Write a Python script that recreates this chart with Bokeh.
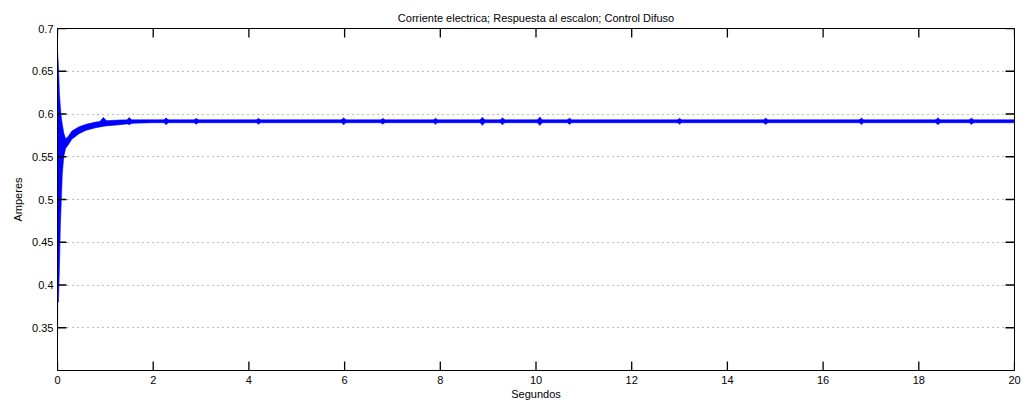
from bokeh.plotting import figure
from bokeh.models import LinearAxis, FixedTicker, Range1d, ColumnDataSource
from bokeh.embed import file_html
from bokeh.resources import INLINE

# ---- data ----
# envelope of the fast-oscillating current (time in s, bounds in A)
t_env = [0.0, 0.005, 0.02, 0.04, 0.06, 0.08, 0.10, 0.13, 0.17, 0.22, 0.30, 0.45, 0.60, 0.80, 1.00, 1.30, 1.60, 2.00, 20.0]
upper = [0.672, 0.670, 0.655, 0.625, 0.608, 0.596, 0.588, 0.578, 0.571, 0.5735, 0.580, 0.585, 0.588, 0.5905, 0.592, 0.593, 0.5932, 0.5932, 0.5932]
lower = [0.330, 0.380, 0.380, 0.420, 0.470, 0.500, 0.530, 0.550, 0.560, 0.5635, 0.5705, 0.577, 0.581, 0.584, 0.586, 0.5875, 0.5893, 0.5898, 0.5898]

# short noise bursts in the steady state
burst_t = [0.96, 1.5, 2.27, 2.9, 4.2, 5.98, 6.8, 7.9, 8.88, 9.3, 10.08, 10.7, 13.0, 14.8, 16.8, 18.4, 19.1]
burst_amp = [0.0045, 0.0045, 0.0040, 0.0035, 0.0035, 0.0042, 0.0035, 0.0035, 0.0048, 0.0042, 0.0050, 0.0038, 0.0035, 0.0038, 0.0038, 0.0042, 0.0038]
steady = 0.5915

x_ticks = [0, 2, 4, 6, 8, 10, 12, 14, 16, 18, 20]
y_ticks = [0.35, 0.40, 0.45, 0.50, 0.55, 0.60, 0.65, 0.70]

TITLE = "Corriente electrica; Respuesta al escalon; Control Difuso"
FONT = "Liberation Sans"
BLUE = "#0000ff"
X0, X1, Y0, Y1 = 0, 20, 0.3, 0.7

p = figure(width=1032, height=406, output_backend="svg", toolbar_location=None,
           x_range=Range1d(X0, X1), y_range=Range1d(Y0, Y1),
           min_border_left=57, min_border_right=18, min_border_top=28, min_border_bottom=36,
           x_axis_location=None, y_axis_location=None)

p.title.text = TITLE
p.title.align = "center"
p.title.text_font = FONT
p.title.text_font_size = "11px"
p.title.text_font_style = "normal"
p.title.text_color = "black"

p.background_fill_color = "white"
p.border_fill_color = "white"
p.outline_line_color = "black"
p.outline_line_width = 1


def style_axis(ax):
    ax.major_tick_in = 0
    ax.major_tick_out = 0
    ax.minor_tick_in = 0
    ax.minor_tick_out = 0
    ax.axis_line_color = "black"
    ax.major_label_text_font = FONT
    ax.major_label_text_font_size = "11px"
    ax.major_label_text_color = "black"
    ax.axis_label_text_font = FONT
    ax.axis_label_text_font_size = "11px"
    ax.axis_label_text_font_style = "normal"
    ax.axis_label_text_color = "black"


bx = LinearAxis(axis_label="Segundos", ticker=FixedTicker(ticks=x_ticks))
lx = LinearAxis(axis_label="Amperes", ticker=FixedTicker(ticks=y_ticks))
style_axis(bx)
style_axis(lx)
bx.major_label_standoff = 5
bx.axis_label_standoff = 1
lx.major_label_standoff = 4
lx.axis_label_standoff = 5
lx.major_label_overrides = {0.35: "0.35", 0.4: "0.4", 0.45: "0.45", 0.5: "0.5",
                            0.55: "0.55", 0.6: "0.6", 0.65: "0.65", 0.7: "0.7"}
p.add_layout(bx, "below")
p.add_layout(lx, "left")

# horizontal dotted grid only
p.xgrid.grid_line_color = None
p.ygrid.ticker = FixedTicker(ticks=y_ticks)
p.ygrid.grid_line_color = "#7a7a7a"
p.ygrid.grid_line_dash = "1 4"
p.ygrid.grid_line_width = 1

# main band (envelope of fast oscillations)
src = ColumnDataSource(dict(t=t_env, lo=lower, hi=upper))
p.varea(x="t", y1="lo", y2="hi", source=src, fill_color=BLUE)
p.line(x="t", y="hi", source=src, line_color=BLUE, line_width=0.6)
p.line(x="t", y="lo", source=src, line_color=BLUE, line_width=0.6)

# noise bursts as small spindles
w = 0.07
bxs = [[t - w, t, t + w, t] for t in burst_t]
bys = [[steady, steady + a, steady, steady - a] for a in burst_amp]
p.patches(xs=bxs, ys=bys, fill_color=BLUE, line_color=BLUE, line_width=0.6)

# inward tick marks on all four sides (MATLAB box style): thin filled rects,
# 18 px long centred on the frame edge, so 9 px show inside the frame
nx, ny = len(x_ticks), len(y_ticks)
xt_src = ColumnDataSource(dict(x=x_ticks + x_ticks, y=[Y0] * nx + [Y1] * nx))
yt_src = ColumnDataSource(dict(x=[X0] * ny + [X1] * ny, y=y_ticks + y_ticks))
p.rect(x="x", y="y", width=1.3, height=18, width_units="screen", height_units="screen",
       source=xt_src, fill_color="black", line_color=None)
p.rect(x="x", y="y", width=18, height=1.3, width_units="screen", height_units="screen",
       source=yt_src, fill_color="black", line_color=None)

open("out.html", "w").write(file_html(p, INLINE))
